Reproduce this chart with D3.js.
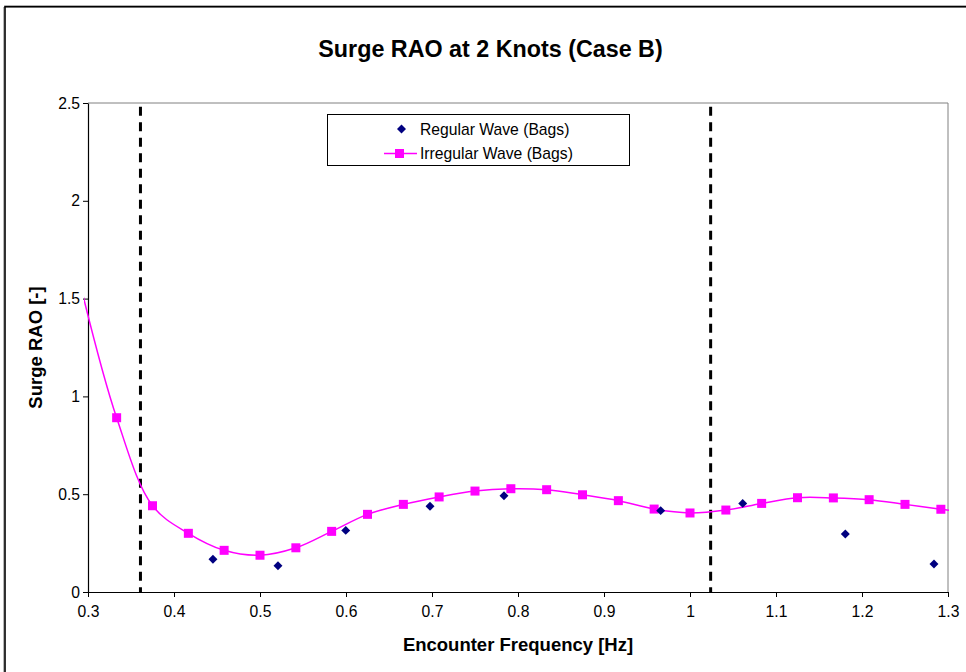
<!DOCTYPE html>
<html>
<head>
<meta charset="utf-8">
<script src="https://cdn.jsdelivr.net/npm/d3@7"></script>
<style>
  html, body { margin: 0; padding: 0; background: #fff; }
  svg { display: block; font-family: Arial, "Liberation Sans", sans-serif; }
</style>
</head>
<body>
<svg id="chart" width="966" height="672"></svg>
<script>
// Encounter frequency grid for the irregular-wave measurements (Hz), k/24
const irregularFreq = [
  0.2917, 0.3333, 0.3750, 0.4167, 0.4583, 0.5000, 0.5417, 0.5833, 0.6250,
  0.6667, 0.7083, 0.7500, 0.7917, 0.8333, 0.8750, 0.9167, 0.9583, 1.0000,
  1.0417, 1.0833, 1.1250, 1.1667, 1.2083, 1.2500, 1.2917, 1.3333
];
const irregularRAO = [
  1.56, 0.891, 0.441, 0.300, 0.213, 0.188, 0.226, 0.310, 0.397,
  0.448, 0.486, 0.516, 0.528, 0.523, 0.497, 0.467, 0.424, 0.404,
  0.419, 0.453, 0.482, 0.481, 0.472, 0.448, 0.423, 0.400
];

// Regular-wave test points
const regularFreq = [0.4453, 0.5209, 0.5997, 0.6977, 0.7837, 0.9659, 1.0613, 1.1806, 1.2837];
const regularRAO  = [0.167, 0.134, 0.315, 0.438, 0.492, 0.416, 0.453, 0.297, 0.143];

// Bounds of the valid frequency band (dashed markers)
const bandLimits = [0.361, 1.024];

const xTicks = [0.3, 0.4, 0.5, 0.6, 0.7, 0.8, 0.9, 1.0, 1.1, 1.2, 1.3];
const yTicks = [0, 0.5, 1, 1.5, 2, 2.5];

const titleText = "Surge RAO at 2 Knots (Case B)";
const xTitle = "Encounter Frequency [Hz]";
const yTitle = "Surge RAO [-]";
const seriesNames = ["Regular Wave (Bags)", "Irregular Wave (Bags)"];

const svg = d3.select("#chart");
const plot = { left: 88, right: 948, top: 103, bottom: 592 };

const x = d3.scaleLinear().domain([0.3, 1.3]).range([plot.left, plot.right]);
const y = d3.scaleLinear().domain([0, 2.5]).range([plot.bottom, plot.top]);

// Outer chart frame
svg.append("rect")
  .attr("x", 3.8).attr("y", 7.5).attr("width", 1000).attr("height", 700)
  .attr("fill", "none").attr("stroke", "#999").attr("stroke-width", 1);
svg.append("rect")
  .attr("x", 5).attr("y", 6.5).attr("width", 1000).attr("height", 700)
  .attr("fill", "none").attr("stroke", "#000").attr("stroke-width", 1.6);

// Title
svg.append("text")
  .attr("x", 490.5).attr("y", 56.5)
  .attr("text-anchor", "middle")
  .attr("font-weight", "bold").attr("font-size", 23.3)
  .text(titleText);

// Plot area frame (grey top and right edges)
svg.append("path")
  .attr("d", `M${plot.left},${plot.top}H${plot.right}V${plot.bottom}`)
  .attr("fill", "none").attr("stroke", "#808080").attr("stroke-width", 1);

// Axes
const xAxis = d3.axisBottom(x).tickValues(xTicks).tickSize(5).tickSizeOuter(0)
  .tickFormat(d => String(+d.toFixed(1)));
const yAxis = d3.axisLeft(y).tickValues(yTicks).tickSize(5).tickSizeOuter(0)
  .tickFormat(d => String(d));

const gx = svg.append("g").attr("transform", `translate(0,${plot.bottom})`).call(xAxis);
const gy = svg.append("g").attr("transform", `translate(${plot.left},0)`).call(yAxis);
[gx, gy].forEach(g => {
  g.select(".domain").attr("stroke", "#000").attr("stroke-width", 1.2);
  g.selectAll(".tick line").attr("stroke", "#000").attr("stroke-width", 1);
  g.selectAll(".tick text").attr("font-size", 15.7).attr("fill", "#000")
    .attr("font-family", "Arial, 'Liberation Sans', sans-serif");
});
gx.selectAll(".tick text").attr("dy", "0.71em").attr("y", 14);
gy.selectAll(".tick text").attr("x", -8);

// Axis titles
svg.append("text")
  .attr("x", (plot.left + plot.right) / 2).attr("y", 651)
  .attr("text-anchor", "middle").attr("font-weight", "bold").attr("font-size", 18.5)
  .text(xTitle);
svg.append("text")
  .attr("transform", `translate(42,${(plot.top + plot.bottom) / 2}) rotate(-90)`)
  .attr("text-anchor", "middle").attr("font-weight", "bold").attr("font-size", 18.5)
  .text(yTitle);

// Dashed band limits
svg.append("g").selectAll("line").data(bandLimits).join("line")
  .attr("x1", d => x(d)).attr("x2", d => x(d))
  .attr("y1", y(2.5)).attr("y2", y(0))
  .attr("stroke", "#000").attr("stroke-width", 3)
  .attr("stroke-dasharray", "9,6.5").attr("stroke-dashoffset", 11.8);

// Clip for the smoothed line
svg.append("clipPath").attr("id", "lineClip")
  .append("rect")
  .attr("x", plot.left - 4).attr("y", plot.top)
  .attr("width", plot.right - plot.left + 5).attr("height", plot.bottom - plot.top);

const irregular = irregularFreq.map((f, i) => ({ f, v: irregularRAO[i] }));
const regular = regularFreq.map((f, i) => ({ f, v: regularRAO[i] }));

const line = d3.line().x(d => x(d.f)).y(d => y(d.v)).curve(d3.curveCatmullRom.alpha(0.5));

svg.append("path")
  .datum(irregular)
  .attr("clip-path", "url(#lineClip)")
  .attr("d", line)
  .attr("fill", "none").attr("stroke", "#FF00FF").attr("stroke-width", 1.5);

const inDomain = d => d.f >= 0.3 && d.f <= 1.3;
const sq = 9;
svg.append("g").selectAll("rect").data(irregular.filter(inDomain)).join("rect")
  .attr("x", d => x(d.f) - sq / 2).attr("y", d => y(d.v) - sq / 2)
  .attr("width", sq).attr("height", sq)
  .attr("fill", "#FF00FF");

const diamondPath = d3.symbol().type(d3.symbolSquare).size(40);
svg.append("g").selectAll("path").data(regular).join("path")
  .attr("transform", d => `translate(${x(d.f)},${y(d.v)}) rotate(45)`)
  .attr("d", diamondPath)
  .attr("fill", "#000080");

// Legend
const lg = svg.append("g");
lg.append("rect")
  .attr("x", 327.5).attr("y", 114.5).attr("width", 302).attr("height", 51)
  .attr("fill", "#fff").attr("stroke", "#000").attr("stroke-width", 1);
lg.append("path")
  .attr("transform", "translate(401.5,129) rotate(45)")
  .attr("d", diamondPath)
  .attr("fill", "#000080");
lg.append("text").attr("x", 420).attr("y", 134.5).attr("font-size", 15.7).text(seriesNames[0]);
lg.append("line")
  .attr("x1", 384).attr("x2", 417).attr("y1", 153.5).attr("y2", 153.5)
  .attr("stroke", "#FF00FF").attr("stroke-width", 1.5);
lg.append("rect")
  .attr("x", 399.5 - sq / 2).attr("y", 153.5 - sq / 2).attr("width", sq).attr("height", sq)
  .attr("fill", "#FF00FF");
lg.append("text").attr("x", 420).attr("y", 159).attr("font-size", 15.7).text(seriesNames[1]);
</script>
</body>
</html>
